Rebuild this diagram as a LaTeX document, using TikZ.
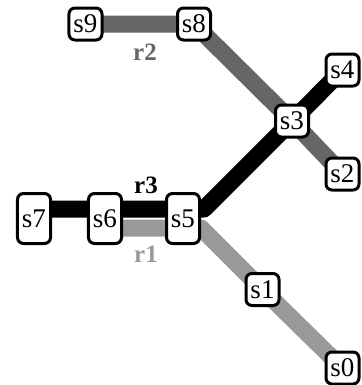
\documentclass[tikz,border=0pt]{standalone}
\usepackage{fontspec}
\setmainfont{Liberation Serif}
\usetikzlibrary{backgrounds}
\definecolor{rtwo}{HTML}{666666}
\definecolor{rone}{HTML}{999999}
\tikzset{
  station/.style={draw=black, fill=white, line width=3bp, rounded corners=6bp,
    minimum width=33bp, minimum height=32bp, inner sep=0pt,
    font=\fontsize{27bp}{27bp}\selectfont},
  tall/.style={station, minimum height=50bp},
  route/.style={line width=17bp, line join=round},
  rlabel/.style={font=\fontsize{25bp}{25bp}\selectfont\bfseries, inner sep=0pt}
}
\begin{document}
\begin{tikzpicture}[x=1bp, y=-1bp]
\useasboundingbox (0,0) rectangle (362,385);
\node[station] (s9) at (85.5,24) {s9};
\node[station] (s8) at (194,24) {s8};
\node[station] (s4) at (342.5,70) {s4};
\node[station] (s3) at (292,121) {s3};
\node[station] (s2) at (342.5,174) {s2};
\node[tall] (s7) at (34,218.5) {s7};
\node[tall] (s6) at (105,218.5) {s6};
\node[tall] (s5) at (183,218.5) {s5};
\node[station] (s1) at (262.5,289.5) {s1};
\node[station] (s0) at (342.5,368) {s0};
\coordinate (b3) at (204,209);
\coordinate (b1) at (201,228);
\node[rlabel, text=rtwo] (lr2) at (145,52) {r2};
\node[rlabel, text=black] (lr3) at (146,185) {r3};
\node[rlabel, text=rone] (lr1) at (146,254) {r1};
\begin{pgfonlayer}{background}
\draw[route, rtwo] (s9.center) -- (s8.center) -- (s3.center) -- (s2.center);
\draw[route, rone] ([yshift=-9.5bp]s6.center) -- (b1) -- (s1.center) -- (s0.center);
\draw[route, black] ([yshift=9.5bp]s7.center) -- (b3) -- (s3.center) -- (s4.center);
\end{pgfonlayer}
\end{tikzpicture}
\end{document}
